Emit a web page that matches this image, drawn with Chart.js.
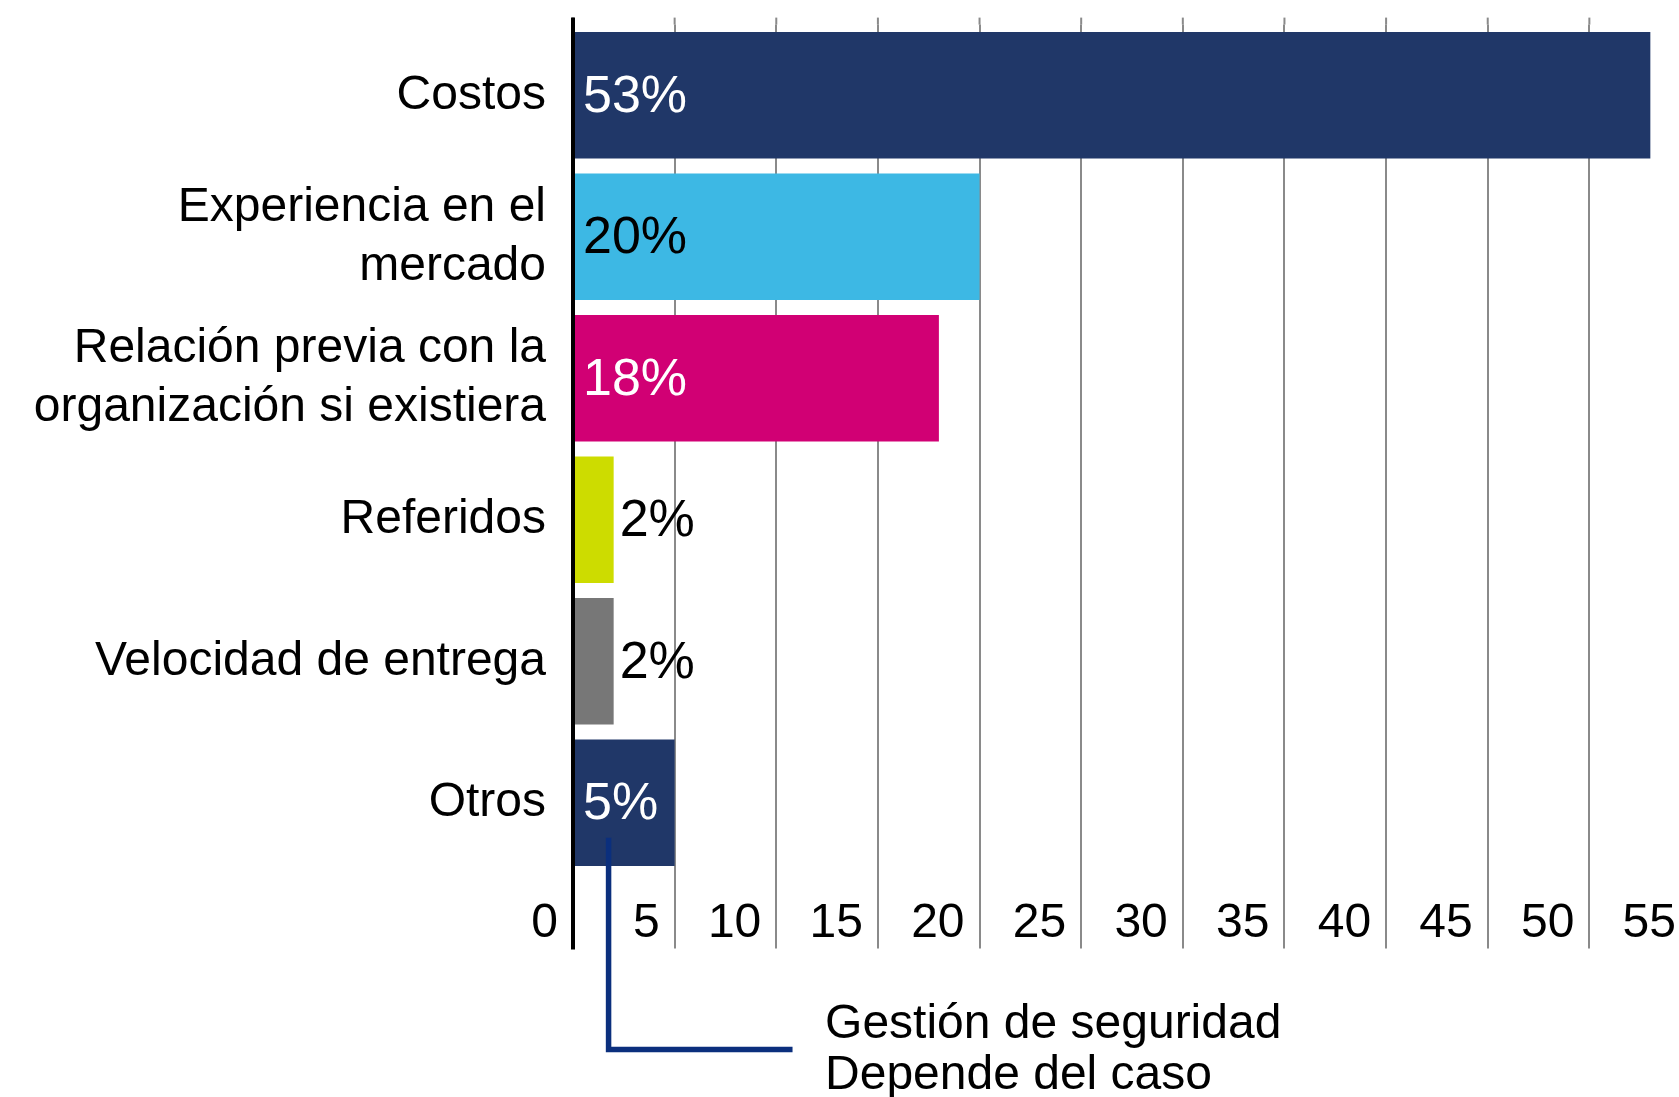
<!DOCTYPE html>
<html>
<head>
<meta charset="utf-8">
<script src="https://cdn.jsdelivr.net/npm/chart.js@4/dist/chart.umd.min.js"></script>
<style>
html,body{margin:0;padding:0;overflow:hidden;background:#ffffff;width:1679px;height:1097px}
#wrap{position:absolute;left:0;top:0;width:1700px;height:1097px}
</style>
</head>
<body>
<div id="wrap"><canvas id="c" width="1700" height="1097"></canvas></div>
<script>
const categories = ['Costos', ['Experiencia en el', 'mercado'], ['Relación previa con la', 'organización si existiera'], 'Referidos', 'Velocidad de entrega', 'Otros'];
const values = [53, 20, 18, 2, 2, 5];
const barColors = ['#203768', '#3db8e4', '#d10074', '#cddc00', '#777777', '#203768'];
const valueLabelColors = ['#ffffff', '#000000', '#ffffff', '#000000', '#000000', '#ffffff'];
const xMin = 0;
const xMax = 55;
const xStep = 5;
const annotationLines = ['Gestión de seguridad', 'Depende del caso'];

const FONT = '"Liberation Sans", Arial, sans-serif';
const FONT_SIZE = 48;
const VALUE_FONT_SIZE = 52;

const extras = {
  id: 'extras',
  afterDatasetsDraw(chart) {
    const ctx = chart.ctx;
    const meta = chart.getDatasetMeta(0);
    ctx.save();
    ctx.font = VALUE_FONT_SIZE + 'px ' + FONT;
    ctx.textBaseline = 'middle';
    meta.data.forEach((bar, i) => {
      const txt = values[i] + '%';
      const w = ctx.measureText(txt).width;
      const inside = (bar.x - bar.base) > w + 16;
      ctx.textAlign = 'left';
      if (inside) {
        ctx.fillStyle = valueLabelColors[i];
        ctx.fillText(txt, bar.base + 9, bar.y + 2);
      } else {
        ctx.fillStyle = '#000000';
        ctx.fillText(txt, bar.x + 6, bar.y + 2);
      }
    });
    ctx.restore();
  },
  afterDraw(chart) {
    const ctx = chart.ctx;
    const area = chart.chartArea;
    const xs = chart.scales.x;
    const meta = chart.getDatasetMeta(0);
    ctx.save();
    // grid extension above plot area
    ctx.strokeStyle = '#8a8a8a';
    ctx.lineWidth = 2;
    xs.ticks.forEach(t => {
      const px = xs.getPixelForValue(t.value);
      ctx.beginPath();
      ctx.moveTo(px, area.top - 7);
      ctx.lineTo(px, area.top);
      ctx.stroke();
    });
    // black value axis
    ctx.strokeStyle = '#000000';
    ctx.lineWidth = 4;
    ctx.beginPath();
    ctx.moveTo(area.left, area.top - 7);
    ctx.lineTo(area.left, area.bottom + 76);
    ctx.stroke();
    // annotation bracket
    const last = meta.data[meta.data.length - 1];
    const bx = xs.getPixelForValue(1.75);
    const by = area.bottom + 176;
    ctx.strokeStyle = '#0b2f7d';
    ctx.lineWidth = 5.5;
    ctx.lineJoin = 'miter';
    ctx.beginPath();
    ctx.moveTo(bx, last.y + 35);
    ctx.lineTo(bx, by);
    ctx.lineTo(xs.getPixelForValue(10.8), by);
    ctx.stroke();
    ctx.fillStyle = '#000000';
    ctx.font = FONT_SIZE + 'px ' + FONT;
    ctx.textAlign = 'left';
    ctx.textBaseline = 'middle';
    const tx = xs.getPixelForValue(12.4);
    ctx.fillText(annotationLines[0], tx, by - 25);
    ctx.fillText(annotationLines[1], tx, by + 26);
    ctx.restore();
  }
};

new Chart(document.getElementById('c'), {
  type: 'bar',
  data: {
    labels: categories,
    datasets: [{
      data: values,
      backgroundColor: barColors,
      borderWidth: 0,
      barPercentage: 0.894,
      categoryPercentage: 1.0
    }]
  },
  options: {
    indexAxis: 'y',
    responsive: false,
    devicePixelRatio: 1,
    animation: false,
    layout: { padding: { left: 0, right: 9, top: 24.6, bottom: 123.4 } },
    plugins: { legend: { display: false }, tooltip: { enabled: false } },
    scales: {
      x: {
        type: 'linear',
        position: 'bottom',
        min: xMin,
        max: xMax,
        afterFit(scale) { scale.height = 100; scale.paddingLeft = 0; scale.paddingRight = 0; },
        grid: { color: '#8a8a8a', lineWidth: 2, drawOnChartArea: true, drawTicks: true, tickLength: 75 },
        border: { display: false },
        ticks: {
          stepSize: xStep,
          color: '#000000',
          font: { family: FONT, size: FONT_SIZE },
          align: 'end',
          labelOffset: -15,
          padding: -54,
          maxRotation: 0,
          autoSkip: false
        }
      },
      y: {
        afterFit(scale) { scale.width = 573; scale.paddingTop = 0; scale.paddingBottom = 0; },
        grid: { display: false, drawTicks: false },
        border: { display: false },
        ticks: {
          color: '#000000',
          font: { family: FONT, size: FONT_SIZE, lineHeight: 1.23 },
          padding: 27,
          autoSkip: false
        }
      }
    }
  },
  plugins: [extras]
});
</script>
</body>
</html>
